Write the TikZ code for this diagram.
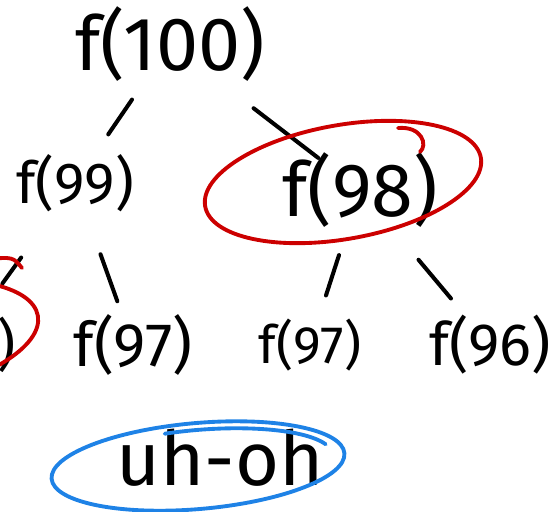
\documentclass[tikz,border=0pt]{standalone}
\usepackage{fontspec}
\setmainfont{Fira Sans}
\usepackage{xcolor}
\usepackage{tikz}
\usetikzlibrary{calc}
\definecolor{ringred}{RGB}{204,0,0}
\definecolor{ringblue}{RGB}{30,130,230}

\begin{document}
\begin{tikzpicture}[x=0.02cm, y=-0.02cm,
    call/.style={inner sep=1pt, font=\fontsize{#1}{#1}\selectfont},
    edge/.style={line width=2.3pt, line cap=round},
    redring/.style={draw=ringred, line width=2.2pt, line cap=round},
    bluering/.style={draw=ringblue, line width=2.2pt, line cap=round}]
  \path[use as bounding box, clip] (0,0) rectangle (557,511);
  % calls of the tree
  \node[call=43] (top) at (170,44) {f(100)};
  \node[call=33] (n99) at (75,183) {f(99)};
  \node[call=43] (n98) at (360,190) {f(98)};
  \foreach \n/\x/\s/\t in {n98b/-42/32/f(98), n97a/133/35/f(97),
      n97b/310/30/f(97), n96/490/34/f(96)}
    \node[call=\s] (\n) at (\x,345) {\t};
  \node[call=43] (uhoh) at (220,458) {uh-oh};
  % edges
  \foreach \a/\b/\s/\e in {top/n99/.4/.65, top/n98/.44/.78,
      n99/n98b/.46/.62, n99/n97a/.44/.73, n98/n97b/.42/.68, n98/n96/.45/.7}
    \draw[edge] ($(\a)!\s!(\b)$) -- ($(\a)!\e!(\b)$);
  % repeated calls
  \draw[redring, shift={($(n98)+(-17,-8)$)}, rotate=10]
    (0,0) ellipse [x radius=2.8cm, y radius=1.14cm];
  \draw[redring] ($(n98)+(38,-62)$) .. controls ($(n98)+(62,-64)$)
    and ($(n98)+(68,-45)$) .. ($(n98)+(60,-38)$);
  \draw[redring, shift={($(n98b)+(-58,-5)$)}, rotate=10]
    (0,0) ellipse [x radius=2.8cm, y radius=1.12cm];
  \draw[redring] ($(n98b)+(30,-86)$) .. controls ($(n98b)+(55,-88)$)
    .. ($(n98b)+(64,-77)$);
  % uh-oh
  \draw[bluering, shift={($(uhoh)+(-22,8)$)}, rotate=5]
    (0,0) ellipse [x radius=2.94cm, y radius=0.86cm]
    (103:2.7cm and 0.72cm) arc [start angle=103, end angle=17,
      x radius=2.7cm, y radius=0.72cm];
\end{tikzpicture}
\end{document}
